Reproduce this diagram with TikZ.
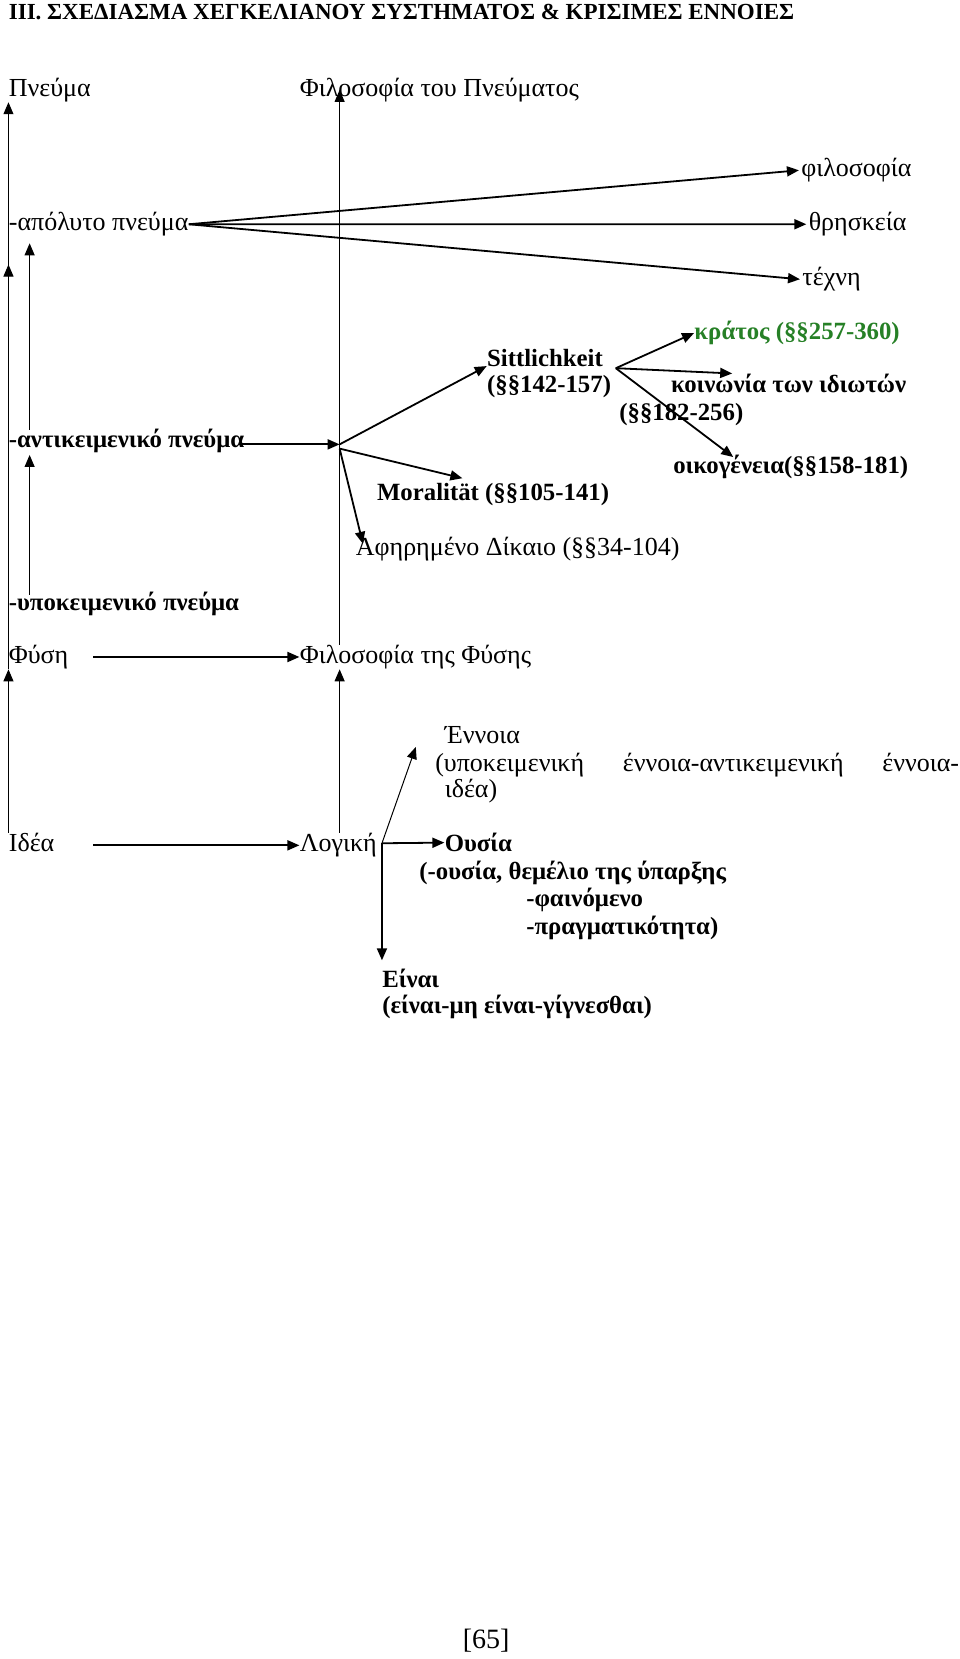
\documentclass[tikz,border=0pt]{standalone}
\usepackage{fontspec}
\setmainfont{Liberation Serif}
\usepackage{xcolor}
\usepackage{tikz}
\usetikzlibrary{arrows.meta,calc}
\definecolor{StateGreen}{RGB}{38,128,38}

\begin{document}
\begin{tikzpicture}[x=0.5292pt,y=-0.5292pt,
    lbl/.style={anchor=base west,inner sep=0pt,font=\fontsize{13}{15}\selectfont},
    blbl/.style={anchor=base west,inner sep=0pt,font=\fontsize{12.4}{14}\selectfont\bfseries},
    thinarr/.style={-{Triangle[length=6pt,width=5pt]},line width=0.5pt},
    fanarr/.style={-{Triangle[length=6pt,width=5pt]},line width=0.9pt}]
  \useasboundingbox (0,0) rectangle (907,1568);
  \node[blbl,font=\fontsize{11.5}{14}\selectfont\bfseries] (title) at (8,18) {III. ΣΧΕΔΙΑΣΜΑ ΧΕΓΚΕΛΙΑΝΟΥ ΣΥΣΤΗΜΑΤΟΣ \& ΚΡΙΣΙΜΕΣ ΕΝΝΟΙΕΣ};
  % spirit
  \node[lbl] (pneuma) at (8,91) {Πνεύμα};
  \node[lbl] (filpn) at (283,91) {Φιλοσοφία του Πνεύματος};
  \node[lbl] (apol) at (8,218) {-απόλυτο πνεύμα};
  \node[lbl] (filos) at (757,167) {φιλοσοφία};
  \node[lbl] (thrisk) at (764,218) {θρησκεία};
  \node[lbl] (techni) at (758,270) {τέχνη};
  \node[blbl,text=StateGreen] (kratos) at (656,321) {κράτος (§§257-360)};
  \node[blbl] (sitt) at (460,346) {Sittlichkeit};
  \node[blbl] (sitt2) at (460,371) {(§§142-157)};
  \node[blbl] (koin) at (634,371) {κοινωνία των ιδιωτών};
  \node[blbl] (koin2) at (585,397) {(§§182-256)};
  \node[blbl] (antik) at (8,423) {-αντικειμενικό πνεύμα};
  \node[blbl] (oikog) at (636,448) {οικογένεια(§§158-181)};
  \node[blbl] (moral) at (356,473) {Moralität (§§105-141)};
  \node[lbl] (afir) at (336,525) {Αφηρημένο Δίκαιο (§§34-104)};
  \node[blbl] (ypok) at (8,577) {-υποκειμενικό πνεύμα};
  % nature
  \node[lbl] (fysi) at (8,627) {Φύση};
  \node[lbl] (filfy) at (283,627) {Φιλοσοφία της Φύσης};
  % logic
  \node[lbl] (ennoia) at (420,703) {Έννοια};
  \node[lbl] (ennoia2) at (411,729) {\makebox[262pt][s]{(υποκειμενική\hfill έννοια-αντικειμενική\hfill έννοια-}};
  \node[lbl] (ennoia3) at (420,754) {ιδέα)};
  \node[lbl] (idea) at (8,805) {Ιδέα};
  \node[lbl] (logiki) at (283,805) {Λογική};
  \node[blbl] (ousia) at (420,805) {Ουσία};
  \node[blbl] (ousia2) at (396,831) {(-ουσία, θεμέλιο της ύπαρξης};
  \node[blbl] (ousia3) at (497,857) {-φαινόμενο};
  \node[blbl] (ousia4) at (497,883) {-πραγματικότητα)};
  \node[blbl] (einai) at (361,933) {Είναι};
  \node[blbl] (einai2) at (361,958) {(είναι-μη είναι-γίγνεσθαι)};
  \node[lbl,font=\fontsize{14}{16}\selectfont] (page) at (437,1558) {[65]};

  % free ends
  \coordinate (midx) at (321,0);
  \coordinate (harr) at (88,0);
  \coordinate (l1) at (8,250);
  \coordinate (l2a) at (28,562);
  \coordinate (l2b) at (28,430);
  \coordinate (l2c) at (28,406);
  \coordinate (l2d) at (28,230);
  \coordinate (hub) at (321,420);
  \coordinate (mtip) at (437,452);
  \coordinate (atip) at (343,514);
  \coordinate (shub) at (582,348);
  \coordinate (ktip) at (692,353);
  \coordinate (otip) at (693,432);
  \coordinate (lhub) at (361,797);
  \coordinate (etip) at (393,706);

  % left column
  \draw[thinarr] (idea.north west) -- (fysi.south west);
  \draw[thinarr] (fysi.south west) -- (l1);
  \draw[thinarr] (l1) -- (pneuma.south west);
  \draw[thinarr] (l2a) -- (l2b);
  \draw[thinarr] (l2c) -- (l2d);
  % middle column
  \draw[thinarr] (midx |- logiki.north) -- (midx |- filfy.south);
  \draw[thinarr] (midx |- filfy.north) -- (midx |- filpn.center);
  \draw[fanarr] (harr |- filfy.west) -- (filfy.west);
  \draw[fanarr] (harr |- logiki.west) -- (logiki.west);
  % absolute spirit
  \foreach \t in {filos,thrisk,techni} {
    \draw[fanarr] (apol.east) -- ([xshift=-1pt]\t.west);
  }
  % objective spirit
  \draw[fanarr] ([xshift=-3pt]antik.east |- hub) -- (hub);
  \draw[fanarr] (hub) -- (sitt.base west);
  \draw[fanarr] ($(hub)+(0,4)$) -- (mtip);
  \draw[fanarr] ($(hub)+(0,4)$) -- (atip);
  \draw[fanarr] (shub) -- (kratos.west);
  \draw[fanarr] (shub) -- (ktip);
  \draw[fanarr] (shub) -- (otip);
  % logic
  \draw[thinarr] (lhub) -- (etip);
  \draw[fanarr] (lhub) -- (ousia.west);
  \draw[fanarr] (lhub) -- ([yshift=4pt]einai.north west);
\end{tikzpicture}
\end{document}
